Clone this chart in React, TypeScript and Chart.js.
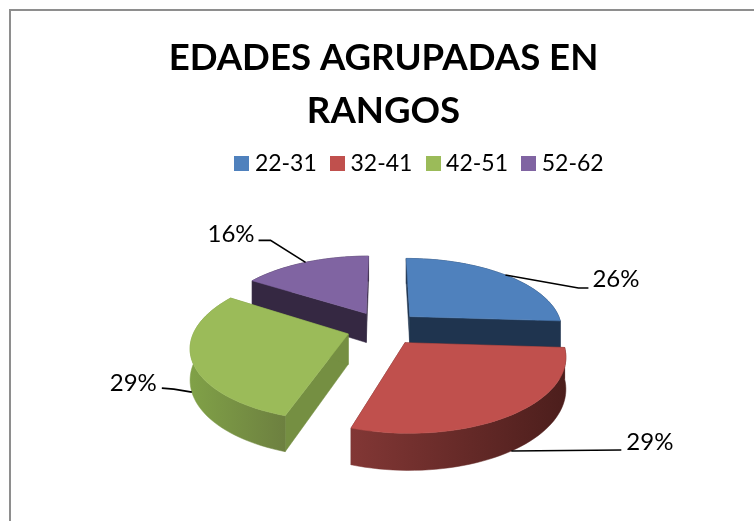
import React, { useEffect, useRef } from "react";
import { Chart, registerables } from "chart.js";

Chart.register(...registerables);

const titleLines = ["EDADES AGRUPADAS EN", "RANGOS"];
const categories = ["22-31", "32-41", "42-51", "52-62"];
const values = [26, 29, 29, 16];
const colors = ["#4f81bd", "#c0504d", "#9bbb59", "#8064a2"];
const radialWall = ["#1f344f", "#5a2423", "#758f42", "#352842"];
const rimLeft = ["#1f344f", "#823735", "#80a147", "#352842"];
const rimRight = ["#1f344f", "#4c1e1c", "#6d8040", "#352842"];
const drawOrder = [3, 0, 2, 1];

// leader-line elbows relative to the rim anchor, and label side
const leaderDx = [73, 0, -18, -35];
const leaderDy = [13, 0, -3, -22];
const leaderEnd = [10, 110, -12, -12];
const leaderEndDy = [0, -1, -1, 0];
const labelDx = [4, 5, -5, -4];
const labelDy = [-9, -8, -5, -6];

const FONT = "Lato, 'Noto Sans', sans-serif";
const SQUASH = 70.4 / 152;
const PERSPECTIVE = 0.16;
const DEPTH = 30;

function makeSwatch(color: string) {
  const c = document.createElement("canvas");
  c.width = 15;
  c.height = 15;
  const g = c.getContext("2d")!;
  g.fillStyle = color;
  g.fillRect(0, 0, 15, 15);
  return c;
}

function project(el: any, u: number, v: number, z: number) {
  const R = el.outerRadius;
  const s = 1 / (1 - (PERSPECTIVE * v) / R);
  return { x: el.x + u * s, y: el.y + v * SQUASH * s + z * DEPTH * s };
}

function slicePoint(el: any, angle: number, r: number) {
  const mid = (el.startAngle + el.endAngle) / 2;
  const off = el.options.offset;
  return {
    u: Math.cos(mid) * off + Math.cos(angle) * r,
    v: Math.sin(mid) * off + Math.sin(angle) * r,
  };
}

function rim(el: any, z: number) {
  const pts = [];
  const n = 48;
  for (let i = 0; i <= n; i++) {
    const a = el.startAngle + ((el.endAngle - el.startAngle) * i) / n;
    const p = slicePoint(el, a, el.outerRadius);
    pts.push(project(el, p.u, p.v, z));
  }
  return pts;
}

function fillPoly(ctx: CanvasRenderingContext2D, pts: { x: number; y: number }[], fill: any) {
  ctx.beginPath();
  pts.forEach((p, i) => (i ? ctx.lineTo(p.x, p.y) : ctx.moveTo(p.x, p.y)));
  ctx.closePath();
  ctx.fillStyle = fill;
  ctx.strokeStyle = fill;
  ctx.lineWidth = 0.5;
  ctx.fill();
  ctx.stroke();
}

const pie3d = {
  id: "pie3d",
  beforeDraw(chart: any) {
    const { ctx, legend } = chart;
    legend.left = legend.left + 38.5;
    legend.right = legend.right + 38.5;
    legend.top = legend.top - 5;
    legend.bottom = legend.bottom - 5;
    ctx.save();
    ctx.strokeStyle = "#8e8e8e";
    ctx.lineWidth = 2;
    ctx.beginPath();
    ctx.moveTo(10, 521);
    ctx.lineTo(10, 10);
    ctx.lineTo(754, 10);
    ctx.stroke();
    ctx.restore();
  },
  beforeDatasetsDraw(chart: any) {
    const ctx: CanvasRenderingContext2D = chart.ctx;
    const arcs = chart.getDatasetMeta(0).data;
    drawOrder.forEach((i) => {
      const el = arcs[i];
      const topRim = rim(el, 0);
      const botRim = rim(el, 1);
      const a0 = slicePoint(el, 0, 0);
      const apexT = project(el, a0.u, a0.v, 0);
      const apexB = project(el, a0.u, a0.v, 1);
      fillPoly(ctx, [apexT, topRim[0], botRim[0], apexB], radialWall[i]);
      const last = topRim.length - 1;
      fillPoly(ctx, [apexT, topRim[last], botRim[last], apexB], radialWall[i]);
      const xs = topRim.map((p) => p.x);
      const g = ctx.createLinearGradient(Math.min(...xs), 0, Math.max(...xs), 0);
      g.addColorStop(0, rimLeft[i]);
      g.addColorStop(1, rimRight[i]);
      fillPoly(ctx, [...topRim, ...botRim.slice().reverse()], g);
      fillPoly(ctx, [apexT, ...topRim], colors[i]);
    });
    // percentage labels with leader lines
    const total = values.reduce((a, b) => a + b, 0);
    ctx.save();
    ctx.font = `24px ${FONT}`;
    ctx.textBaseline = "middle";
    ctx.fillStyle = "#000";
    arcs.forEach((el: any, i: number) => {
      const mid = (el.startAngle + el.endAngle) / 2;
      const p = slicePoint(el, mid, el.outerRadius);
      const front = p.v > 0 ? 1 : 0;
      const start = project(el, p.u, p.v, front);
      const elbow = { x: start.x + leaderDx[i], y: start.y + leaderDy[i] };
      const end = { x: elbow.x + leaderEnd[i], y: elbow.y + leaderEndDy[i] };
      ctx.strokeStyle = "#000";
      ctx.lineWidth = 1.6;
      ctx.beginPath();
      ctx.moveTo(start.x, start.y);
      ctx.lineTo(elbow.x, elbow.y);
      ctx.lineTo(end.x, end.y);
      ctx.stroke();
      ctx.textAlign = leaderEnd[i] > 0 ? "left" : "right";
      ctx.fillText(
        `${Math.round((values[i] / total) * 100)}%`,
        end.x + labelDx[i],
        end.y + labelDy[i]
      );
    });
    ctx.restore();
    return false;
  },
};

export default function App() {
  const ref = useRef<HTMLCanvasElement>(null);
  useEffect(() => {
    const chart = new Chart(ref.current!, {
      type: "pie",
      plugins: [pie3d],
      data: {
        labels: categories,
        datasets: [{ data: values, backgroundColor: colors, borderWidth: 0, offset: 37 }],
      },
      options: {
        animation: false,
        responsive: false,
        radius: 153,
        layout: { padding: { left: 13, right: 0, top: 31, bottom: 55 } },
        plugins: {
          tooltip: { enabled: false },
          title: {
            display: true,
            text: titleLines,
            color: "#000",
            font: { family: FONT, size: 36.6, weight: "bold", lineHeight: 1.46 },
            padding: { top: 0, bottom: 0 },
          },
          legend: {
            position: "top",
            labels: {
              usePointStyle: true,
              pointStyleWidth: 3,
              padding: 19.2,
              color: "#000",
              font: { family: FONT, size: 23 },
              generateLabels: (chart: any) =>
                Chart.overrides.pie.plugins.legend.labels
                  .generateLabels(chart)
                  .map((item: any, i: number) => ({ ...item, pointStyle: makeSwatch(colors[i]) })),
            },
          },
        },
      },
    } as any);
    return () => chart.destroy();
  }, []);
  return (
    <div style={{ position: "fixed", left: 0, top: 0, width: 754, height: 521, background: "#fff" }}>
      <canvas ref={ref} width={754} height={521} style={{ display: "block" }} />
    </div>
  );
}
